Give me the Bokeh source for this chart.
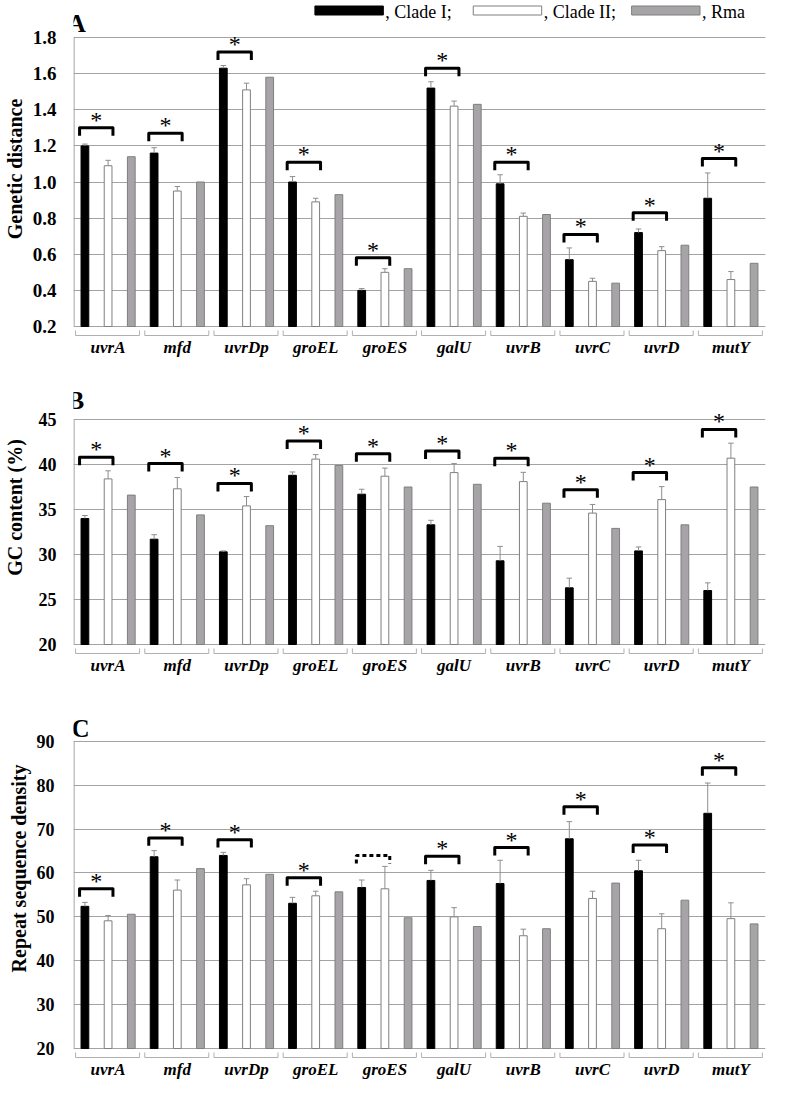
import numpy as np
from bokeh.plotting import figure
from bokeh.models import Range1d, FixedTicker, ColumnDataSource, Label, PrintfTickFormatter
from bokeh.layouts import column
from bokeh.embed import file_html
from bokeh.resources import INLINE
from bokeh.core.properties import value

genes = ["uvrA", "mfd", "uvrDp", "groEL", "groES", "galU", "uvrB", "uvrC", "uvrD", "mutY"]
series_labels = [", Clade I;", ", Clade II;", ", Rma"]

# Panel A: genetic distance
dist_clade1 = [1.20, 1.16, 1.63, 1.00, 0.40, 1.52, 0.99, 0.57, 0.72, 0.91]
dist_clade1_err = [0.01, 0.03, 0.015, 0.03, 0.01, 0.035, 0.05, 0.065, 0.02, 0.14]
dist_clade2 = [1.09, 0.95, 1.51, 0.89, 0.50, 1.42, 0.81, 0.45, 0.62, 0.46]
dist_clade2_err = [0.03, 0.025, 0.037, 0.02, 0.02, 0.028, 0.018, 0.017, 0.022, 0.044]
dist_rma = [1.14, 1.00, 1.58, 0.93, 0.52, 1.43, 0.82, 0.44, 0.65, 0.55]
dist_bracket = [1.30, 1.27, 1.72, 1.11, 0.58, 1.63, 1.11, 0.71, 0.83, 1.13]
dist_sig = [True] * 10
dist_ticks = [0.2, 0.4, 0.6, 0.8, 1.0, 1.2, 1.4, 1.6, 1.8]

# Panel B: GC content (%)
gc_clade1 = [34.0, 31.7, 30.3, 38.8, 36.7, 33.3, 29.3, 26.3, 30.4, 26.0]
gc_clade1_err = [0.33, 0.5, 0.1, 0.37, 0.55, 0.5, 1.6, 1.07, 0.44, 0.85]
gc_clade2 = [38.4, 37.3, 35.4, 40.6, 38.7, 39.1, 38.1, 34.6, 36.1, 40.7]
gc_clade2_err = [0.9, 1.26, 1.04, 0.5, 0.9, 1.0, 1.03, 0.96, 1.44, 1.67]
gc_rma = [36.6, 34.4, 33.2, 39.9, 37.5, 37.8, 35.7, 32.9, 33.3, 37.5]
gc_bracket = [40.8, 40.1, 37.9, 42.6, 41.2, 41.5, 40.7, 37.2, 39.1, 43.9]
gc_sig = [True] * 10
gc_ticks = [20, 25, 30, 35, 40, 45]

# Panel C: repeat sequence density
rep_clade1 = [52.4, 63.7, 64.0, 53.1, 56.7, 58.3, 57.6, 67.8, 60.5, 73.6]
rep_clade1_err = [0.9, 1.4, 0.7, 1.35, 1.7, 2.3, 5.3, 3.9, 2.4, 6.9]
rep_clade2 = [49.1, 56.1, 57.3, 54.8, 56.4, 50.0, 45.7, 54.2, 47.3, 49.6]
rep_clade2_err = [1.2, 2.3, 1.4, 1.05, 5.1, 2.1, 1.5, 1.65, 3.4, 3.6]
rep_rma = [50.6, 61.0, 59.7, 55.7, 49.8, 47.8, 47.3, 57.7, 53.8, 48.4]
rep_bracket = [56.4, 68.0, 67.6, 58.9, 64.0, 63.8, 65.8, 75.1, 66.4, 84.0]
rep_sig = [True, True, True, True, False, True, True, True, True, True]
rep_ticks = [20, 30, 40, 50, 60, 70, 80, 90]

SERIF = "Liberation Serif"
MARGIN = 8          # page margin of the html body
FIG_W = 777
BLACK = "#000000"
GREY_FILL = "#a7a4a7"
OUTLINE = "#7f7f7f"
GRID = "#a3a3a3"
ERR = "#8e8e8e"
CATLINE = "#b0b0b0"
OFF = 0.335
BAR_W = 0.112


def make_panel(letter, ylabel, c1, c1e, c2, c2e, rma, brk, sig, ticks, fmt, tick_size,
               fig_top, fig_h, frame_left, frame_w, top_page, base_page,
               lab_standoff, title_standoff, letter_base, legend=False):
    """All *_page / frame_left / fig_top values are page pixel positions."""
    n = len(genes)
    s = (base_page - top_page) / (ticks[-1] - ticks[0])
    cw = frame_w / n

    def px2x(X):
        return (X - frame_left) / cw - 0.5

    def px2y(P):
        return ticks[-1] - (P - top_page) / s

    def dy(k):
        return k / s

    def dx(k):
        return k / cw

    frame_bottom = base_page + 11
    y0 = px2y(frame_bottom)
    y1 = px2y(fig_top)
    left_b = frame_left - MARGIN
    right_b = FIG_W - left_b - frame_w
    bottom_b = fig_top + fig_h - frame_bottom

    p = figure(width=FIG_W, height=fig_h, title=None,
               x_range=Range1d(-0.5, n - 0.5), y_range=Range1d(y0, y1),
               output_backend="svg", toolbar_location=None,
               min_border_left=left_b, min_border_right=right_b,
               min_border_top=0, min_border_bottom=bottom_b)
    p.outline_line_color = None
    p.background_fill_color = "white"
    p.border_fill_color = "white"

    for ax in (p.yaxis, p.xaxis):
        ax.axis_line_color = None
        ax.major_tick_line_color = None
        ax.minor_tick_line_color = None
        ax.major_tick_out = 0
        ax.major_tick_in = 0
        ax.minor_tick_out = 0
        ax.minor_tick_in = 0
        ax.major_label_text_font = SERIF
        ax.major_label_text_color = BLACK

    p.yaxis.ticker = FixedTicker(ticks=ticks)
    p.yaxis.formatter = PrintfTickFormatter(format=fmt)
    p.yaxis.major_label_text_font_size = tick_size
    p.yaxis.major_label_text_font_style = "bold"
    p.yaxis.major_label_standoff = lab_standoff
    p.yaxis.axis_label = ylabel
    p.yaxis.axis_label_text_font = SERIF
    p.yaxis.axis_label_text_font_size = "20px"
    p.yaxis.axis_label_text_font_style = "bold"
    p.yaxis.axis_label_text_color = BLACK
    p.yaxis.axis_label_standoff = title_standoff

    p.xaxis.ticker = FixedTicker(ticks=list(range(n)))
    p.xaxis.major_label_overrides = {i: g for i, g in enumerate(genes)}
    p.xaxis.major_label_text_font_size = "17px"
    p.xaxis.major_label_text_font_style = "bold italic"
    p.xaxis.major_label_standoff = 0

    p.xgrid.grid_line_color = None
    p.ygrid.ticker = FixedTicker(ticks=ticks)
    p.ygrid.grid_line_color = GRID
    p.ygrid.grid_line_width = 1

    idx = np.arange(n)
    base = ticks[0]

    # left axis line
    p.segment(x0=[px2x(frame_left + 0.5)], y0=[base], x1=[px2x(frame_left + 0.5)], y1=[ticks[-1]],
              line_color=GRID, line_width=1.3)

    # category brackets below the axis
    cl = idx - 0.47
    cr = idx + 0.455
    yh = base - dy(9)
    yl = base - dy(4)
    p.multi_line(xs=[[a, a, b, b] for a, b in zip(cl, cr)],
                 ys=[[yl, yh, yh, yl] for _ in idx],
                 line_color=CATLINE, line_width=1)

    src = ColumnDataSource(dict(
        x1=idx - OFF, x2=idx + 0.0, x3=idx + OFF,
        c1=c1, c2=c2, rma=rma,
        c1t=np.array(c1) + np.array(c1e), c2t=np.array(c2) + np.array(c2e),
    ))
    p.vbar(x="x1", top="c1", bottom=base, width=BAR_W, source=src,
           fill_color=BLACK, line_color=BLACK, line_width=1)
    p.vbar(x="x2", top="c2", bottom=base, width=BAR_W, source=src,
           fill_color="white", line_color=OUTLINE, line_width=1)
    p.vbar(x="x3", top="rma", bottom=base, width=BAR_W, source=src,
           fill_color=GREY_FILL, line_color=OUTLINE, line_width=1)

    cap = dx(2.8)
    for xc, yv, yt_ in (("x1", "c1", "c1t"), ("x2", "c2", "c2t")):
        p.segment(x0=xc, y0=yv, x1=xc, y1=yt_, source=src, line_color=ERR, line_width=1)
    capsrc = ColumnDataSource(dict(
        a1=idx - OFF - cap, b1=idx - OFF + cap, a2=idx - cap, b2=idx + cap,
        t1=np.array(c1) + np.array(c1e), t2=np.array(c2) + np.array(c2e)))
    p.segment(x0="a1", y0="t1", x1="b1", y1="t1", source=capsrc, line_color=ERR, line_width=1)
    p.segment(x0="a2", y0="t2", x1="b2", y1="t2", source=capsrc, line_color=ERR, line_width=1)

    # significance brackets
    leg = dy(8)
    bl = idx - OFF - BAR_W / 2 - dx(1.5)
    br = idx + BAR_W / 2 + dx(1)
    solid = [i for i in idx if sig[i]]
    dashed = [i for i in idx if not sig[i]]
    if solid:
        p.multi_line(xs=[[bl[i], bl[i], br[i], br[i]] for i in solid],
                     ys=[[brk[i] - leg, brk[i], brk[i], brk[i] - leg] for i in solid],
                     line_color=BLACK, line_width=3, line_join="round", line_cap="butt")
        p.text(x=[(bl[i] + br[i]) / 2 for i in solid], y=[brk[i] for i in solid],
               text=["*"] * len(solid), text_font=value(SERIF), text_font_size="24px",
               text_align="center", text_baseline="alphabetic", text_color=BLACK,
               y_offset=-8)
    if dashed:
        p.multi_line(xs=[[bl[i], bl[i], br[i], br[i]] for i in dashed],
                     ys=[[brk[i] - leg, brk[i], brk[i], brk[i] - leg] for i in dashed],
                     line_color=BLACK, line_width=3, line_dash="4 3")

    # panel letter
    p.add_layout(Label(x=px2x(71), y=px2y(letter_base), text=letter, text_font=SERIF,
                       text_font_size="25px", text_font_style="bold", text_color=BLACK,
                       text_align="left", text_baseline="alphabetic"))

    if legend:
        yc = px2y(18)
        h = dy(9)
        rx = [359, 521, 683]
        fills = [BLACK, "white", GREY_FILL]
        lines = [BLACK, OUTLINE, OUTLINE]
        p.rect(x=[px2x(v) for v in rx], y=[yc] * 3, width=dx(70), height=h,
               fill_color=fills, line_color=lines, line_width=1)
        p.text(x=[px2x(v + 37) for v in rx], y=[px2y(19)] * 3, text=series_labels,
               text_font=value(SERIF), text_font_size="18px", text_align="left",
               text_baseline="middle", text_color=BLACK)
    return p


pA = make_panel("A", "Genetic distance", dist_clade1, dist_clade1_err, dist_clade2, dist_clade2_err,
                dist_rma, dist_bracket, dist_sig, dist_ticks, "%.1f", "19px",
                fig_top=8, fig_h=359, frame_left=77, frame_w=708, top_page=45, base_page=334,
                lab_standoff=17, title_standoff=4, letter_base=31, legend=True)
pB = make_panel("B", "GC content (%)", gc_clade1, gc_clade1_err, gc_clade2, gc_clade2_err,
                gc_rma, gc_bracket, gc_sig, gc_ticks, "%d", "18px",
                fig_top=367, fig_h=318, frame_left=77, frame_w=700, top_page=427, base_page=652,
                lab_standoff=17, title_standoff=10, letter_base=408)
pC = make_panel("C", "Repeat sequence density", rep_clade1, rep_clade1_err, rep_clade2, rep_clade2_err,
                rep_rma, rep_bracket, rep_sig, rep_ticks, "%d", "18px",
                fig_top=685, fig_h=404, frame_left=73, frame_w=700, top_page=749, base_page=1057,
                lab_standoff=19, title_standoff=4, letter_base=736)

layout = column(pA, pB, pC, spacing=0)
open("out.html", "w").write(file_html(layout, INLINE))
